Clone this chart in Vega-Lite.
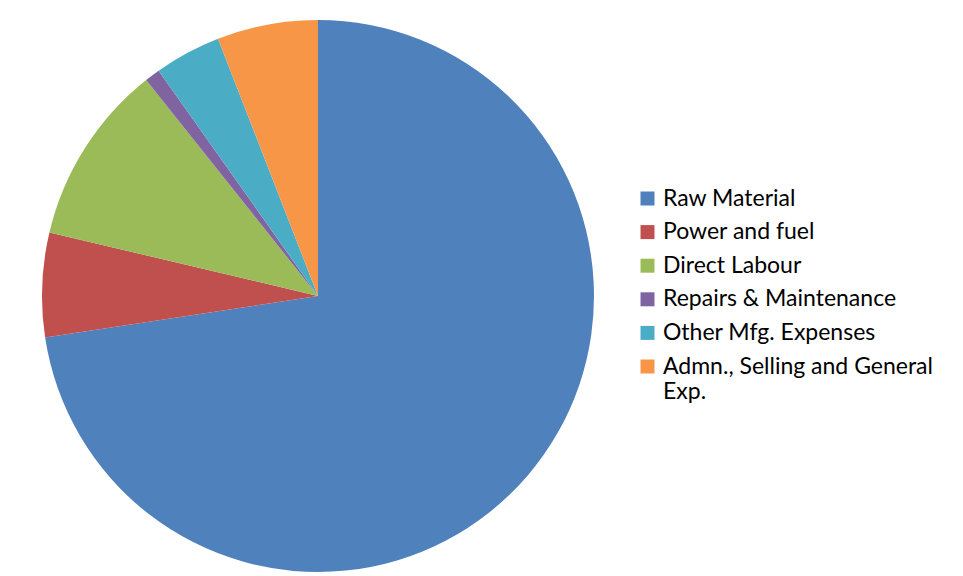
{
  "$schema": "https://vega.github.io/schema/vega-lite/v6.json",
  "autosize": "none",
  "width": 636,
  "height": 552,
  "padding": {"left": 0, "top": 20, "right": 327, "bottom": 4},
  "background": "white",
  "config": {"view": {"stroke": null}},
  "data": {
    "values": [
      {"item": "Raw Material", "share": 72.6, "k": 1},
      {"item": "Power and fuel", "share": 6.1, "k": 2},
      {"item": "Direct Labour", "share": 10.6, "k": 3},
      {"item": "Repairs & Maintenance", "share": 0.9, "k": 4},
      {"item": "Other Mfg. Expenses", "share": 3.9, "k": 5},
      {"item": "Admn., Selling and General Exp.", "share": 5.9, "k": 6}
    ]
  },
  "mark": {"type": "arc", "outerRadius": 276},
  "encoding": {
    "theta": {"field": "share", "type": "quantitative", "stack": true},
    "order": {"field": "k", "type": "quantitative"},
    "color": {
      "field": "item",
      "type": "nominal",
      "scale": {
        "domain": ["Raw Material", "Power and fuel", "Direct Labour", "Repairs & Maintenance", "Other Mfg. Expenses", "Admn., Selling and General Exp."],
        "range": ["#4F81BD", "#C0504D", "#9BBB59", "#8064A2", "#4BACC6", "#F79646"]
      },
      "legend": {
        "title": null,
        "orient": "none",
        "legendX": 636,
        "legendY": 167,
        "symbolType": "square",
        "symbolSize": 196,
        "symbolStrokeWidth": 0,
        "labelFont": "Lato",
        "labelFontSize": 23,
        "labelColor": "#000000",
        "labelOffset": 4,
        "rowPadding": 9.6,
        "labelLimit": 400,
        "labelExpr": "datum.label == 'Admn., Selling and General Exp.' ? ['Admn., Selling and General', 'Exp.'] : datum.label"
      }
    }
  }
}
